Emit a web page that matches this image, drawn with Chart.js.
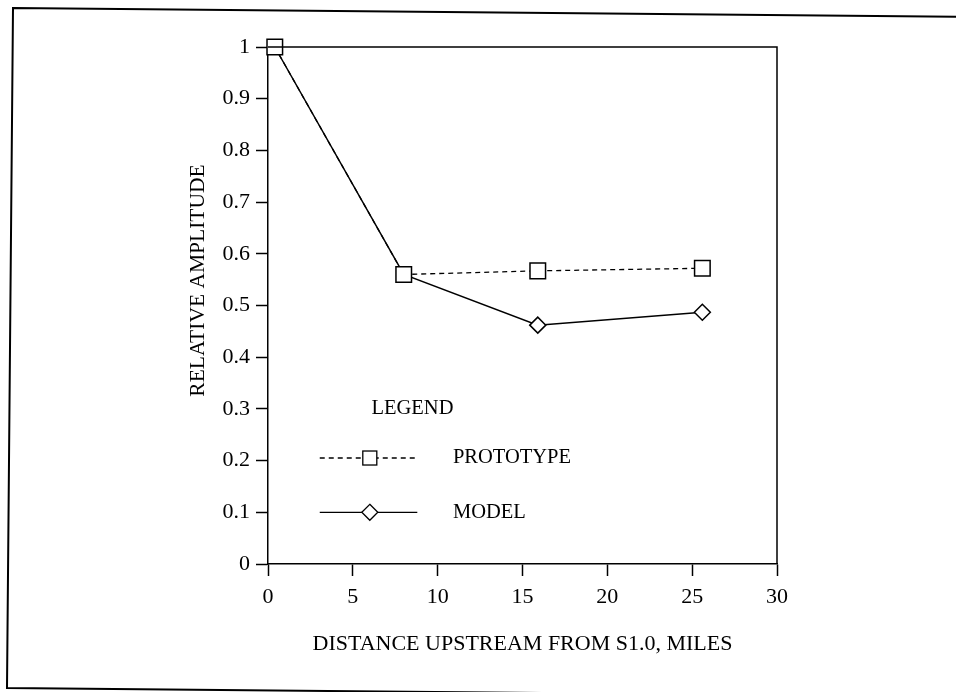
<!DOCTYPE html>
<html>
<head>
<meta charset="utf-8">
<script src="https://cdn.jsdelivr.net/npm/chart.js@4/dist/chart.umd.min.js"></script>
<style>
html, body { margin: 0; padding: 0; background: #fff; }
</style>
</head>
<body>
<canvas id="canvas1" width="956" height="692"></canvas>
<script>
// distance upstream (miles) and relative amplitude
var distance = [0.4, 8.0, 15.9, 25.6];
var prototype = [1.0, 0.56, 0.567, 0.572];
var model = [1.0, 0.56, 0.462, 0.487];
var xTicks = [0, 5, 10, 15, 20, 25, 30];
var yTicks = [0, 0.1, 0.2, 0.3, 0.4, 0.5, 0.6, 0.7, 0.8, 0.9, 1];

var serif = "'Liberation Serif', 'DejaVu Serif', serif";
Chart.defaults.font.family = serif;
Chart.defaults.color = '#000';

function pts(ys) {
  return distance.map(function(x, i) { return {x: x, y: ys[i]}; });
}

// page frame, plot box, y title and the hand-drawn legend
var decor = {
  id: 'decor',
  beforeDraw: function(chart) {
    var c = chart.ctx;
    c.save();
    c.fillStyle = '#fff';
    c.fillRect(0, 0, chart.width, chart.height);
    c.strokeStyle = '#000';
    c.lineWidth = 2;
    c.beginPath();
    c.moveTo(13, 8);
    c.lineTo(970, 17);
    c.lineTo(970, 697);
    c.lineTo(7, 688);
    c.closePath();
    c.stroke();
    c.restore();
  },
  afterDraw: function(chart) {
    var c = chart.ctx, a = chart.chartArea;
    var xs = chart.scales.x, ys = chart.scales.y;
    c.save();
    c.strokeStyle = '#000';
    c.lineWidth = 1.5;
    c.beginPath();
    c.moveTo(a.left, a.top);
    c.lineTo(a.right, a.top);
    c.lineTo(a.right, a.bottom);
    c.stroke();

    // y axis title
    c.save();
    c.translate(a.left - 70, (a.top + a.bottom) / 2 - 25);
    c.rotate(-Math.PI / 2);
    c.font = '21.5px ' + serif;
    c.fillStyle = '#000';
    c.textAlign = 'center';
    c.textBaseline = 'middle';
    c.fillText('RELATIVE AMPLITUDE', 0, 0);
    c.restore();

    // legend box
    c.font = '20.5px ' + serif;
    c.fillStyle = '#000';
    c.textAlign = 'left';
    c.textBaseline = 'middle';
    c.fillText('LEGEND', xs.getPixelForValue(6.1), ys.getPixelForValue(0.3));

    var x0 = xs.getPixelForValue(3.05), x1 = xs.getPixelForValue(8.8);
    var xm = xs.getPixelForValue(6.0), xt = xs.getPixelForValue(10.9);
    var yp = ys.getPixelForValue(0.205), ym = ys.getPixelForValue(0.1);

    c.lineWidth = 1.3;
    c.setLineDash([5, 4]);
    c.beginPath();
    c.moveTo(x0, yp); c.lineTo(x1, yp);
    c.stroke();
    c.setLineDash([]);
    c.fillStyle = '#fff';
    c.fillRect(xm - 7, yp - 7, 14, 14);
    c.strokeRect(xm - 7, yp - 7, 14, 14);

    c.beginPath();
    c.moveTo(x0, ym); c.lineTo(x1, ym);
    c.stroke();
    c.beginPath();
    c.moveTo(xm, ym - 8); c.lineTo(xm + 8, ym); c.lineTo(xm, ym + 8); c.lineTo(xm - 8, ym);
    c.closePath();
    c.fill();
    c.stroke();

    c.fillStyle = '#000';
    c.fillText('PROTOTYPE', xt, yp);
    c.fillText('MODEL', xt, ym);
    c.restore();
  }
};

new Chart(document.getElementById('canvas1'), {
  type: 'line',
  data: {
    datasets: [{
      label: 'PROTOTYPE',
      data: pts(prototype),
      clip: false,
      borderColor: '#000',
      borderWidth: 1.3,
      borderDash: [5, 4],
      pointStyle: 'rect',
      pointRadius: 11,
      pointBorderWidth: 1.5,
      pointBorderColor: '#000',
      pointBackgroundColor: '#fff',
      tension: 0
    }, {
      label: 'MODEL',
      data: pts(model),
      clip: false,
      borderColor: '#000',
      borderWidth: 1.5,
      pointStyle: 'rectRot',
      pointRadius: function(ctx) { return ctx.dataIndex < 2 ? 0 : 8; },
      pointBorderWidth: 1.5,
      pointBorderColor: '#000',
      pointBackgroundColor: '#fff',
      tension: 0
    }]
  },
  options: {
    responsive: false,
    animation: false,
    events: [],
    layout: { padding: { top: 47, right: 179, left: 0, bottom: 0 } },
    plugins: { legend: { display: false }, tooltip: { enabled: false } },
    scales: {
      x: {
        type: 'linear',
        min: 0,
        max: 30,
        afterBuildTicks: function(s) { s.ticks = xTicks.map(function(v) { return {value: v}; }); },
        afterFit: function(s) { s.height = 128; },
        grid: { drawOnChartArea: false, drawTicks: true, tickLength: 12, tickColor: '#000', tickWidth: 1.5 },
        border: { display: true, color: '#000', width: 1.5 },
        ticks: { font: { size: 22 }, padding: 8, color: '#000', callback: function(v) { return String(v); } },
        title: {
          display: true,
          text: 'DISTANCE UPSTREAM FROM S1.0, MILES',
          font: { size: 22 },
          padding: { top: 0, bottom: 35 }
        }
      },
      y: {
        type: 'linear',
        min: 0,
        max: 1,
        afterBuildTicks: function(s) { s.ticks = yTicks.map(function(v) { return {value: v}; }); },
        afterFit: function(s) { s.width = 268; },
        grid: { drawOnChartArea: false, drawTicks: true, tickLength: 12, tickColor: '#000', tickWidth: 1.5 },
        border: { display: true, color: '#000', width: 1.5 },
        ticks: { font: { size: 22 }, padding: 6, color: '#000', callback: function(v) { return String(v); } }
      }
    }
  },
  plugins: [decor]
});
</script>
</body>
</html>
